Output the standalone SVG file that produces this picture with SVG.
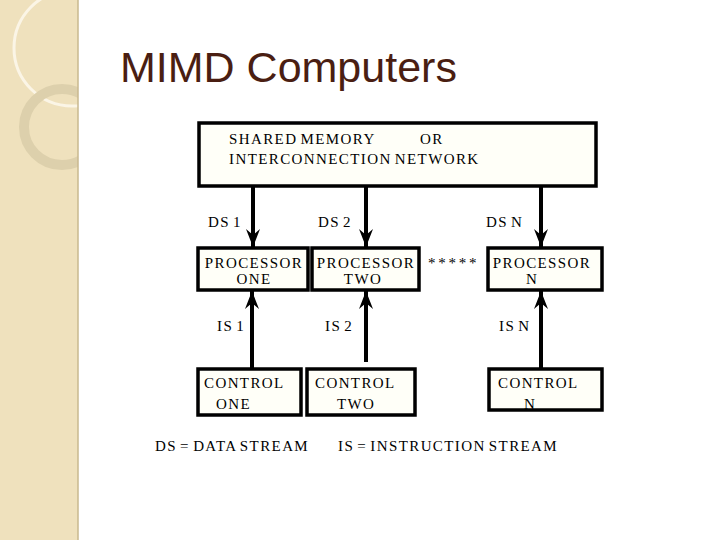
<svg xmlns="http://www.w3.org/2000/svg" width="720" height="540" viewBox="0 0 720 540">
<style>
.box{fill:#fffff8;stroke:#000;stroke-width:3.5}
.t{font-family:"Liberation Serif",serif;font-size:15px;fill:#000;letter-spacing:1.4px;word-spacing:-2px}
.c{text-anchor:middle}
.ln{stroke:#000;stroke-width:4;fill:none}
</style>
<defs>
<marker id="ah" viewBox="0 0 18 14" refX="18" refY="7" markerWidth="18" markerHeight="14" markerUnits="userSpaceOnUse" orient="auto">
<path d="M0,0 L18,7 L0,14 L6,7 Z" fill="#000"/>
</marker>
<clipPath id="strip"><rect x="0" y="0" width="78" height="540"/></clipPath>
</defs>
<rect width="720" height="540" fill="#fff"/>
<rect x="0" y="0" width="78" height="540" fill="#efe1bd"/>
<g clip-path="url(#strip)">
<circle cx="72" cy="48" r="58" fill="none" stroke="#fbf5e6" stroke-width="3"/>
<circle cx="62" cy="127" r="38" fill="none" stroke="#ddd0ac" stroke-width="10"/>
</g>
<line x1="78" y1="0" x2="78" y2="540" stroke="#c8b98f" stroke-width="1.5"/>
<text x="120" y="82" font-family="Liberation Sans,sans-serif" font-size="43" fill="#4a1e12">MIMD Computers</text>
<g id="memory"><rect class="box" x="199" y="123" width="397" height="63"/>
<text class="t" x="229" y="144">SHARED MEMORY</text><text class="t" x="420" y="144">OR</text>
<text class="t" x="229" y="164">INTERCONNECTION NETWORK</text></g>
<g id="p1"><rect class="box" x="198" y="248" width="110" height="42"/><text class="t c" x="254" y="268">PROCESSOR</text><text class="t c" x="254" y="284">ONE</text></g>
<g id="p2"><rect class="box" x="312" y="248" width="107" height="42"/><text class="t c" x="366" y="268">PROCESSOR</text><text class="t c" x="363" y="284">TWO</text></g>
<g id="pn"><rect class="box" x="488" y="248" width="114" height="42"/><text class="t c" x="542" y="268">PROCESSOR</text><text class="t c" x="532" y="284">N</text></g>
<text class="t" x="428" y="268" style="letter-spacing:0.5px">* * * * *</text>
<g id="c1"><rect class="box" x="198" y="369" width="103" height="46"/><text class="t" x="204" y="388">CONTROL</text><text class="t" x="216" y="409">ONE</text></g>
<g id="c2"><rect class="box" x="307" y="369" width="108" height="46"/><text class="t" x="315" y="388">CONTROL</text><text class="t" x="337" y="409">TWO</text></g>
<g id="cn"><rect class="box" x="489" y="369" width="113" height="41"/><text class="t" x="498" y="388">CONTROL</text><text class="t" x="524" y="409">N</text></g>
<g id="connectors">
<line class="ln" x1="253" y1="186" x2="253" y2="247" marker-end="url(#ah)"/>
<line class="ln" x1="366" y1="186" x2="366" y2="247" marker-end="url(#ah)"/>
<line class="ln" x1="541" y1="186" x2="541" y2="247" marker-end="url(#ah)"/>
<line class="ln" x1="252" y1="368" x2="252" y2="291" marker-end="url(#ah)"/>
<line class="ln" x1="366" y1="362" x2="366" y2="291" marker-end="url(#ah)"/>
<line class="ln" x1="541" y1="368" x2="541" y2="291" marker-end="url(#ah)"/>
</g>
<text class="t" x="208" y="227">DS 1</text>
<text class="t" x="318" y="227">DS 2</text>
<text class="t" x="486" y="227">DS N</text>
<text class="t" x="217" y="331">IS 1</text>
<text class="t" x="325" y="331">IS 2</text>
<text class="t" x="499" y="331">IS N</text>
<text class="t" x="155" y="451">DS = DATA STREAM</text>
<text class="t" x="338" y="451">IS = INSTRUCTION STREAM</text>
</svg>
